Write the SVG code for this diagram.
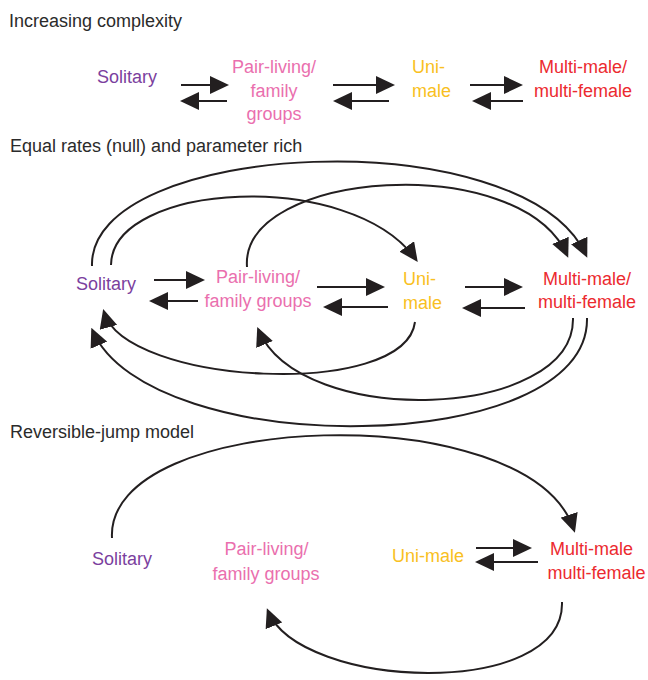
<svg xmlns="http://www.w3.org/2000/svg" width="648" height="680" viewBox="0 0 648 680">
  <style>
    text { font-family: "Liberation Sans", Arial, sans-serif; font-size: 18px; }
    .title { fill: #2b2b2b; }
    .sol { fill: #7b3f9e; text-anchor: middle; }
    .pair { fill: #ea6fae; text-anchor: middle; }
    .uni { fill: #f9bf22; }
    .multi { fill: #ec2a2f; text-anchor: middle; }
    .edge { fill: none; stroke: #231f20; stroke-width: 2; marker-end: url(#head); }
  </style>
  <defs>
    <marker id="head" markerUnits="userSpaceOnUse" viewBox="0 0 19 18" markerWidth="19" markerHeight="18" refX="16" refY="9" orient="auto">
      <path d="M0,0 L19,9 L0,18 z" fill="#231f20"/>
    </marker>
  </defs>

  <!-- section titles -->
  <text class="title" x="9" y="26.5">Increasing complexity</text>
  <text class="title" x="10" y="152">Equal rates (null) and parameter rich</text>
  <text class="title" x="10" y="438">Reversible-jump model</text>

  <!-- Increasing complexity -->
  <g id="ic-solitary"><text class="sol" x="127" y="83">Solitary</text></g>
  <g id="ic-pair">
    <text class="pair" x="274" y="73">Pair-living/</text>
    <text class="pair" x="274" y="96.5">family</text>
    <text class="pair" x="274" y="120">groups</text>
  </g>
  <g id="ic-uni">
    <text class="uni" x="412" y="73">Uni-</text>
    <text class="uni" x="412" y="97">male</text>
  </g>
  <g id="ic-multi">
    <text class="multi" x="583" y="73">Multi-male/</text>
    <text class="multi" x="583" y="97">multi-female</text>
  </g>

  <!-- Equal rates / parameter rich -->
  <g id="er-solitary"><text class="sol" x="106" y="290">Solitary</text></g>
  <g id="er-pair">
    <text class="pair" x="258" y="283">Pair-living/</text>
    <text class="pair" x="258" y="307">family groups</text>
  </g>
  <g id="er-uni">
    <text class="uni" x="403" y="285">Uni-</text>
    <text class="uni" x="403" y="309">male</text>
  </g>
  <g id="er-multi">
    <text class="multi" x="587" y="285">Multi-male/</text>
    <text class="multi" x="587" y="308">multi-female</text>
  </g>

  <!-- Reversible-jump -->
  <g id="rj-solitary"><text class="sol" x="122" y="565">Solitary</text></g>
  <g id="rj-pair">
    <text class="pair" x="266.5" y="555">Pair-living/</text>
    <text class="pair" x="266" y="580">family groups</text>
  </g>
  <g id="rj-uni"><text class="uni" x="392" y="562">Uni-male</text></g>
  <g id="rj-multi">
    <text class="multi" x="591.5" y="555">Multi-male</text>
    <text class="multi" x="596.5" y="579">multi-female</text>
  </g>

  <g id="connectors">
    <!-- increasing complexity: stepwise transitions -->
    <path class="edge" d="M181,85 H226"/>
    <path class="edge" d="M227,101 H183"/>
    <path class="edge" d="M333,85 H392"/>
    <path class="edge" d="M389,101 H336"/>
    <path class="edge" d="M470,85 H520"/>
    <path class="edge" d="M523,101 H475"/>

    <!-- equal rates: neighbour transitions -->
    <path class="edge" d="M154,280 H202"/>
    <path class="edge" d="M198,301 H152"/>
    <path class="edge" d="M317,287 H382"/>
    <path class="edge" d="M388,307 H326"/>
    <path class="edge" d="M465,287 H520"/>
    <path class="edge" d="M525,308 H465"/>

    <!-- equal rates: long jumps over the top -->
    <path class="edge" d="M92,266 C88,140 522,118 586,255"/>
    <path class="edge" d="M111,265 C112,182 351,168 416,259.5"/>
    <path class="edge" d="M247,267 C240,170 520,150 567,255"/>

    <!-- equal rates: long jumps underneath -->
    <path class="edge" d="M415,322 C405,400 125,385 104,312"/>
    <path class="edge" d="M573,318 C575,420 300,430 258.4,329.7"/>
    <path class="edge" d="M587,318 C590,458 150,462 92.5,330.6"/>

    <!-- reversible-jump transitions -->
    <path class="edge" d="M476,548 H529"/>
    <path class="edge" d="M538,562 H478"/>
    <path class="edge" d="M112,538 C105,410 530,395 574,530"/>
    <path class="edge" d="M562,602 C565,700 300,690 268,611"/>
  </g>
</svg>
